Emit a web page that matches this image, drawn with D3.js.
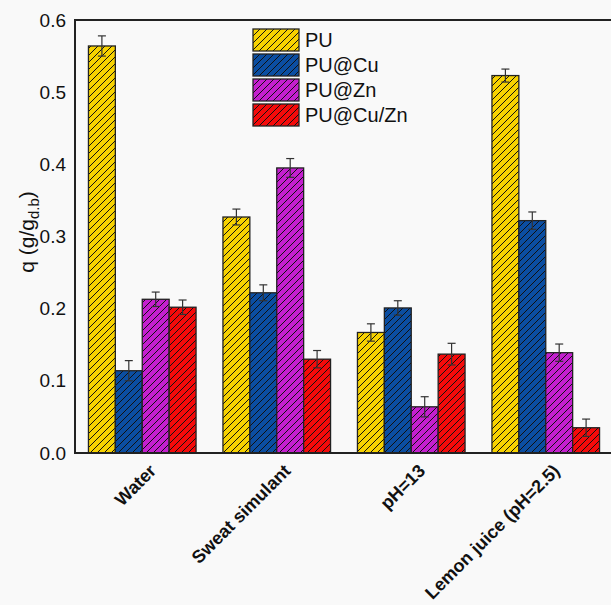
<!DOCTYPE html>
<html>
<head>
<meta charset="utf-8">
<script src="https://cdn.jsdelivr.net/npm/d3@7"></script>
<style>
body { margin: 0; background: #f9f9f9; }
svg { display: block; font-family: Arial, "Liberation Sans", sans-serif; }
</style>
</head>
<body>
<svg id="chart" width="611" height="605"></svg>
<script>
var categories = ["Water", "Sweat simulant", "pH=13", "Lemon juice (pH=2.5)"];
var seriesNames = ["PU", "PU@Cu", "PU@Zn", "PU@Cu/Zn"];
var seriesColors = ["#f7d200", "#0b4ea2", "#c41fcf", "#f50a0a"];
// values per series, in category order
var valPU    = [0.564, 0.327, 0.167, 0.523];
var valCu    = [0.114, 0.222, 0.201, 0.322];
var valZn    = [0.213, 0.395, 0.064, 0.139];
var valCuZn  = [0.202, 0.130, 0.137, 0.035];
var errPU    = [0.014, 0.011, 0.012, 0.009];
var errCu    = [0.014, 0.011, 0.010, 0.012];
var errZn    = [0.010, 0.013, 0.014, 0.012];
var errCuZn  = [0.010, 0.012, 0.015, 0.012];
var yTicks = [0.0, 0.1, 0.2, 0.3, 0.4, 0.5, 0.6];

var values = [valPU, valCu, valZn, valCuZn];
var errors = [errPU, errCu, errZn, errCuZn];

var margin = {top: 20, right: -2, bottom: 152, left: 75},
	width = 611 - margin.left - margin.right,
	height = 605 - margin.top - margin.bottom;

var svg = d3.select("#chart");

var defs = svg.append("defs");
seriesColors.forEach(function(c, i) {
	var p = defs.append("pattern")
		.attr("id", "hatch" + i)
		.attr("patternUnits", "userSpaceOnUse")
		.attr("width", 7).attr("height", 7);
	p.append("rect").attr("width", 7).attr("height", 7).attr("fill", c);
	p.append("path")
		.attr("d", "M0,7 L7,0 M-1,1 L1,-1 M6,8 L8,6")
		.attr("stroke", "#111").attr("stroke-width", 1);
});

var g = svg.append("g")
	.attr("transform", "translate(" + margin.left + "," + margin.top + ")");

var x0 = d3.scaleBand().domain(categories).range([0, width]).paddingInner(0.2).paddingOuter(0.1);
var x1 = d3.scaleBand().domain(seriesNames).range([0, x0.bandwidth()]);
var y = d3.scaleLinear().domain([0, 0.6]).range([height, 0]);

var data = [];
categories.forEach(function(cat, ci) {
	seriesNames.forEach(function(s, si) {
		data.push({cat: cat, s: s, si: si, v: values[si][ci], e: errors[si][ci]});
	});
});

var bars = g.selectAll(".bar").data(data).enter().append("g").attr("class", "bar");
bars.append("rect")
	.attr("x", function(d) { return x0(d.cat) + x1(d.s); })
	.attr("y", function(d) { return y(d.v); })
	.attr("width", x1.bandwidth())
	.attr("height", function(d) { return height - y(d.v); })
	.attr("fill", function(d) { return "url(#hatch" + d.si + ")"; })
	.attr("stroke", "#222").attr("stroke-width", 1.3);

var cap = 4;
bars.each(function(d) {
	var cx = x0(d.cat) + x1(d.s) + x1.bandwidth() / 2;
	var sel = d3.select(this);
	sel.append("line").attr("x1", cx).attr("x2", cx)
		.attr("y1", y(d.v + d.e)).attr("y2", y(d.v - d.e));
	sel.append("line").attr("x1", cx - cap).attr("x2", cx + cap)
		.attr("y1", y(d.v + d.e)).attr("y2", y(d.v + d.e));
	sel.append("line").attr("x1", cx - cap).attr("x2", cx + cap)
		.attr("y1", y(d.v - d.e)).attr("y2", y(d.v - d.e));
	sel.selectAll("line").attr("stroke", "#333").attr("stroke-width", 1.2);
});

// frame
g.append("rect")
	.attr("width", width).attr("height", height)
	.attr("fill", "none").attr("stroke", "#222").attr("stroke-width", 2);

// y axis labels
var yAxis = d3.axisLeft(y).tickValues(yTicks).tickFormat(d3.format(".1f")).tickSize(0).tickPadding(9);
var ya = g.append("g").call(yAxis);
ya.select(".domain").remove();
ya.selectAll("text").attr("font-size", 19).attr("fill", "#111").attr("font-family", "Arial, 'Liberation Sans', sans-serif");

// x axis labels
var xa = g.append("g").attr("transform", "translate(0," + height + ")");
xa.selectAll("text").data(categories).enter().append("text")
	.attr("transform", function(d) {
		return "translate(" + (x0(d) + x0.bandwidth() / 2 + 15) + ",19) rotate(-45)";
	})
	.attr("text-anchor", "end")
	.attr("font-size", 18).attr("font-weight", "bold").attr("fill", "#111")
	.text(function(d) { return d; });

// y title
var yt = svg.append("text")
	.attr("transform", "translate(34,232) rotate(-90)")
	.attr("text-anchor", "middle")
	.attr("font-size", 21).attr("fill", "#111");
yt.append("tspan").text("q (g/g");
yt.append("tspan").attr("font-size", 15).attr("dy", 5).text("d.b");
yt.append("tspan").attr("dy", -5).text(")");

// legend
var legend = svg.append("g").attr("transform", "translate(253,29)");
var li = legend.selectAll("g").data(seriesNames).enter().append("g")
	.attr("transform", function(d, i) { return "translate(0," + (i * 25) + ")"; });
li.append("rect")
	.attr("width", 46).attr("height", 22)
	.attr("fill", function(d, i) { return "url(#hatch" + i + ")"; })
	.attr("stroke", "#222").attr("stroke-width", 1.3);
li.append("text")
	.attr("x", 52).attr("y", 18)
	.attr("font-size", 20).attr("fill", "#111")
	.text(function(d) { return d; });
</script>
</body>
</html>
